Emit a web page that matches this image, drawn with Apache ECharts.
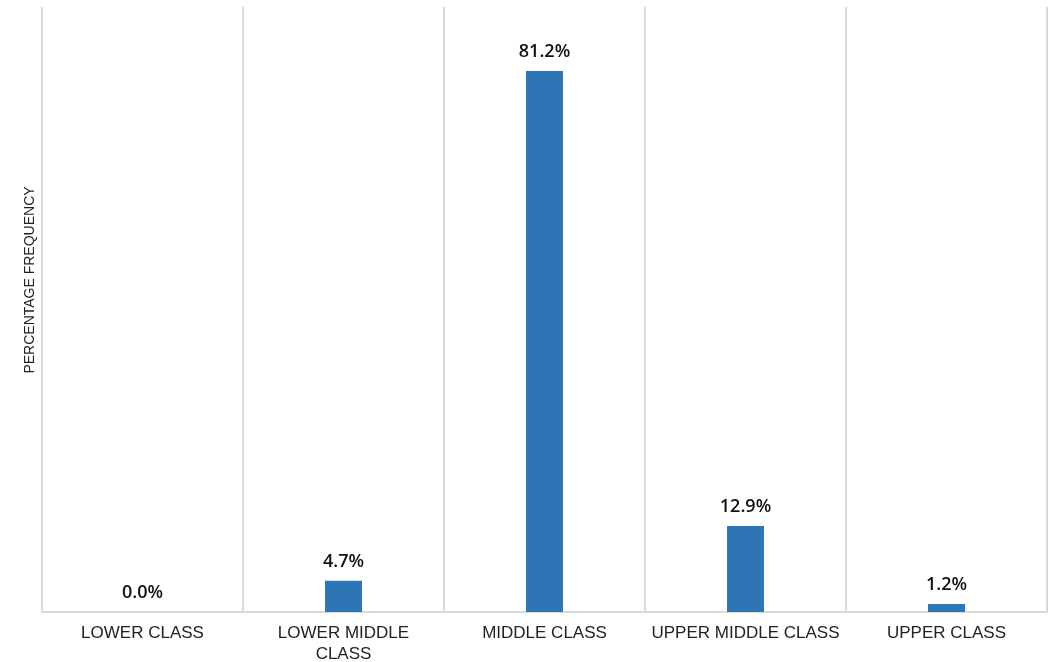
<!DOCTYPE html>
<html>
<head>
<meta charset="utf-8">
<script src="https://cdn.jsdelivr.net/npm/echarts@6/dist/echarts.min.js"></script>
<style>
  html, body { margin: 0; padding: 0; background: #ffffff; }
  #chart { width: 1059px; height: 662px; }
</style>
</head>
<body>
<div id="chart"></div>
<script>
// Share of respondents by self-reported social class
const categories = ['LOWER CLASS', 'LOWER MIDDLE\nCLASS', 'MIDDLE CLASS', 'UPPER MIDDLE CLASS', 'UPPER CLASS'];
const percentages = [0.0, 4.7, 81.2, 12.9, 1.2];
const yAxisTitle = 'PERCENTAGE FREQUENCY';

const chart = echarts.init(document.getElementById('chart'), null, { renderer: 'canvas' });

chart.setOption({
  animation: false,
  backgroundColor: '#ffffff',
  grid: {
    left: 42, right: 12, top: 7, bottom: 50,
    containLabel: false,
    outerBoundsMode: 'none'
  },
  xAxis: {
    type: 'category',
    data: categories,
    boundaryGap: true,
    axisLine: { show: true, lineStyle: { color: '#d9d9d9', width: 2 } },
    axisTick: { show: false },
    splitLine: { show: true, lineStyle: { color: '#d9d9d9', width: 2 } },
    axisLabel: {
      color: '#222222',
      fontFamily: 'Liberation Sans',
      fontSize: 17,
      lineHeight: 21,
      margin: 11,
      interval: 0
    }
  },
  yAxis: {
    type: 'value',
    min: 0,
    max: 90.8,
    axisLine: { show: false },
    axisTick: { show: false },
    axisLabel: { show: false },
    splitLine: { show: false }
  },
  graphic: [{
    type: 'text',
    x: 30,
    y: 280,
    rotation: Math.PI / 2,
    style: {
      text: yAxisTitle,
      fill: '#222222',
      font: '14px "Liberation Sans"',
      align: 'center',
      verticalAlign: 'middle'
    }
  }],
  series: [{
    type: 'bar',
    data: percentages,
    barWidth: 37,
    itemStyle: { color: '#2E75B6' },
    label: {
      show: true,
      position: 'top',
      distance: 10,
      color: '#111111',
      fontFamily: 'Open Sans',
      fontWeight: 600,
      fontSize: 18,
      formatter: p => p.value.toFixed(1) + '%'
    }
  }]
});
</script>
</body>
</html>
